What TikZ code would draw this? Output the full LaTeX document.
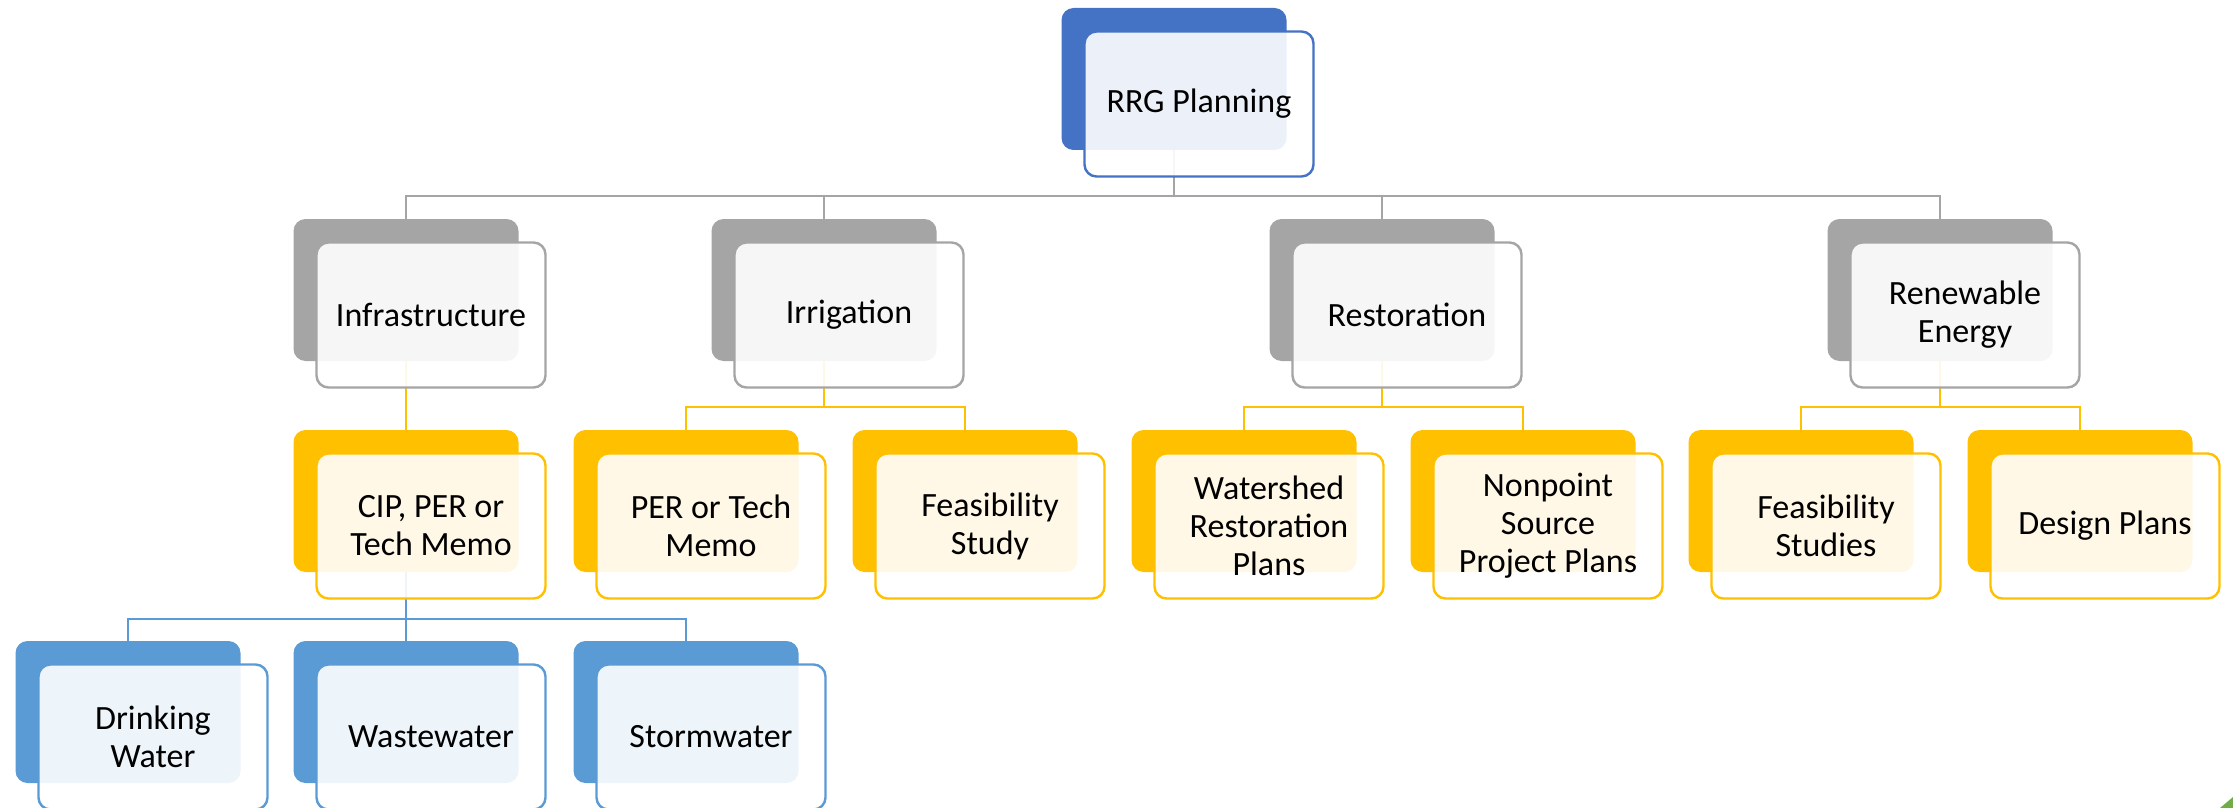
\documentclass[tikz,border=0pt]{standalone}
\usepackage{xcolor}
\usepackage{fontspec}
\setmainfont{Carlito}
\usetikzlibrary{
		calc,
		positioning
	}
\definecolor{topblue}{HTML}{4472C4}
\definecolor{midgray}{HTML}{A5A5A5}
\definecolor{gold}{HTML}{FFC000}
\definecolor{skyblue}{HTML}{5B9BD5}
\definecolor{leafgreen}{HTML}{70AD47}
\tikzset{
		>=stealth,
		back/.style={rectangle, rounded corners=6pt, minimum width=112.5pt,
			minimum height=71pt, inner sep=0pt},
		front/.style={back, draw, line width=1.2pt, fill=white, fill opacity=0.9,
			minimum width=114.5pt, minimum height=72.5pt,
			text opacity=1, align=center, font=\fontsize{17}{19}\selectfont},
		link/.style={line width=1.1pt}
	}

\begin{document}
\begin{tikzpicture}[x=0.5pt, y=-0.5pt]
          \useasboundingbox (0,0) rectangle (2233,808);

          % back plates
          \node[back, fill=topblue] (rrg) at (1174,79) {};

          \node[back, fill=midgray] (infra) at (406,290) {};
          \node[back, fill=midgray] (irrig) at (824,290) {};
          \node[back, fill=midgray] (resto) at (1382,290) {};
          \node[back, fill=midgray] (renew) at (1940,290) {};

          \node[back, fill=gold] (cip) at (406,501) {};
          \node[back, fill=gold] (pertech) at (686,501) {};
          \node[back, fill=gold] (feasstudy) at (965,501) {};
          \node[back, fill=gold] (watershed) at (1244,501) {};
          \node[back, fill=gold] (nonpoint) at (1523,501) {};
          \node[back, fill=gold] (feasstudies) at (1801,501) {};
          \node[back, fill=gold] (design) at (2080,501) {};

          \node[back, fill=skyblue] (drinking) at (128,712) {};
          \node[back, fill=skyblue] (waste) at (406,712) {};
          \node[back, fill=skyblue] (storm) at (686,712) {};

          % connectors
          \coordinate (bus1) at (0,196);
          \coordinate (bus2) at (0,407);
          \coordinate (bus3) at (0,619);

          \foreach \n in {infra,irrig,resto,renew}
            \draw[link, midgray] (rrg.south) -- (rrg.south |- bus1) -| (\n.north);

          \draw[link, gold] (infra.south) -- (infra.south |- bus2) -| (cip.north);
          \foreach \n in {pertech,feasstudy}
            \draw[link, gold] (irrig.south) -- (irrig.south |- bus2) -| (\n.north);
          \foreach \n in {watershed,nonpoint}
            \draw[link, gold] (resto.south) -- (resto.south |- bus2) -| (\n.north);
          \foreach \n in {feasstudies,design}
            \draw[link, gold] (renew.south) -- (renew.south |- bus2) -| (\n.north);

          \foreach \n in {drinking,waste,storm}
            \draw[link, skyblue] (cip.south) -- (cip.south |- bus3) -| (\n.north);

          % front cards with the text
          \node[front, draw=topblue] (rrgcard) at ($(rrg)+(25,25)$) {RRG Planning};

          \node[front, draw=midgray] (infracard) at ($(infra)+(25,25)$) {Infrastructure};
          \node[front, draw=midgray] (irrigcard) at ($(irrig)+(25,25)$) {Irrigation};
          \node[front, draw=midgray] (restocard) at ($(resto)+(25,25)$) {Restoration};
          \node[front, draw=midgray] (renewcard) at ($(renew)+(25,25)$) {Renewable\\Energy};

          \node[front, draw=gold] (cipcard) at ($(cip)+(25,25)$) {CIP, PER or\\Tech Memo};
          \node[front, draw=gold] (pertechcard) at ($(pertech)+(25,25)$) {PER or Tech\\Memo};
          \node[front, draw=gold] (feasstudycard) at ($(feasstudy)+(25,25)$) {Feasibility\\Study};
          \node[front, draw=gold] (watershedcard) at ($(watershed)+(25,25)$) {Watershed\\Restoration\\Plans};
          \node[front, draw=gold] (nonpointcard) at ($(nonpoint)+(25,25)$) {Nonpoint\\Source\\Project Plans};
          \node[front, draw=gold] (feasstudiescard) at ($(feasstudies)+(25,25)$) {Feasibility\\Studies};
          \node[front, draw=gold] (designcard) at ($(design)+(25,25)$) {Design Plans};

          \node[front, draw=skyblue] (drinkingcard) at ($(drinking)+(25,25)$) {Drinking\\Water};
          \node[front, draw=skyblue] (wastecard) at ($(waste)+(25,25)$) {Wastewater};
          \node[front, draw=skyblue] (stormcard) at ($(storm)+(25,25)$) {Stormwater};

          % corner mark
          \fill[leafgreen] (2220,808) -- (2233,797) -- (2233,808) -- cycle;

          \end{tikzpicture}
\end{document}
